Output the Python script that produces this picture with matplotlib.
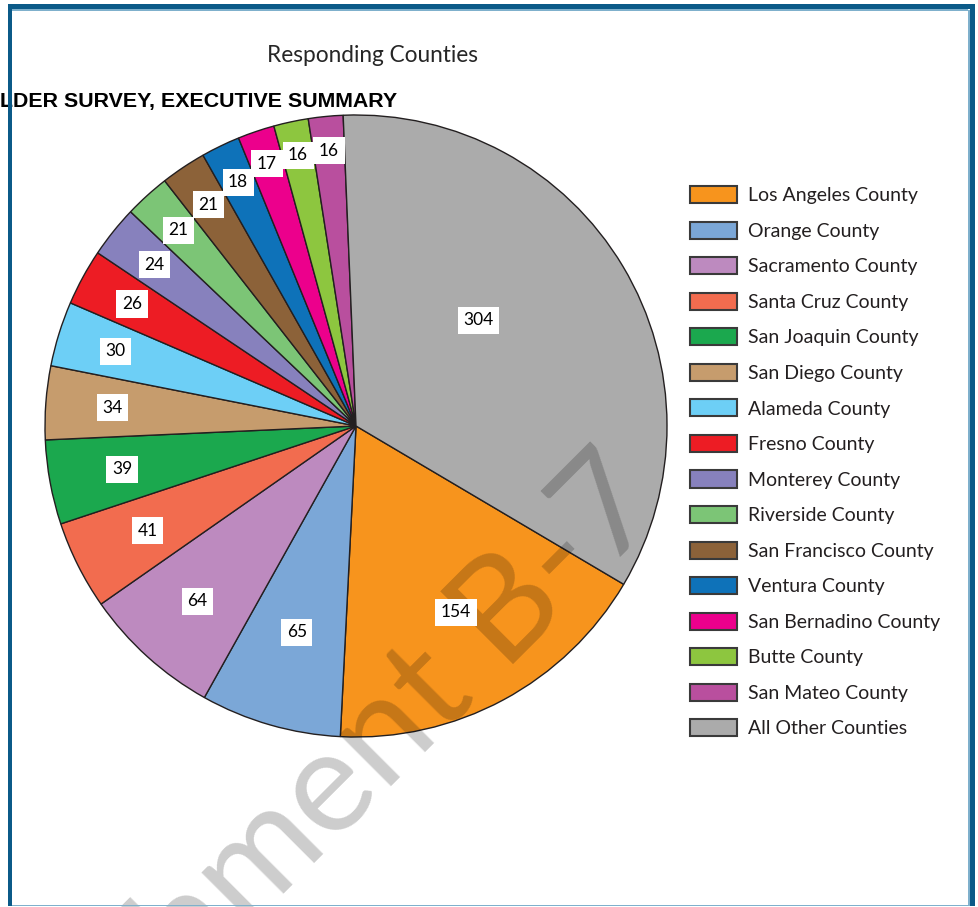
import matplotlib
matplotlib.use('Agg')
from matplotlib import pyplot as plt
from matplotlib.patches import Rectangle
import numpy as np

counties = ['Los Angeles County', 'Orange County', 'Sacramento County',
            'Santa Cruz County', 'San Joaquin County', 'San Diego County',
            'Alameda County', 'Fresno County', 'Monterey County',
            'Riverside County', 'San Francisco County', 'Ventura County',
            'San Bernadino County', 'Butte County', 'San Mateo County',
            'All Other Counties']
responses = [154, 65, 64, 41, 39, 34, 30, 26, 24, 21, 21, 18, 17, 16, 16, 304]
colors = ['#f7941d', '#7ba7d7', '#bd8abf', '#f26c4f', '#1ba84e', '#c69c6d',
          '#6dcff6', '#ed1c24', '#8781bd', '#7cc576', '#8c6239', '#0e72b9',
          '#ec008c', '#8dc63f', '#b94f9e', '#ababab']

# where the value boxes sit, as fraction of radius (Excel "best fit" look)
label_r = [0.68, 0.69, 0.76, 0.75, 0.765, 0.785, 0.81, 0.82, 0.83, 0.85,
           0.855, 0.87, 0.89, 0.89, 0.89, 0.52]
label_shift = [0] * 15 + [10]

W, H = 979, 907
fig = plt.figure(figsize=(W / 100, H / 100), dpi=100)
ax = fig.add_axes([0, 0, 1, 1])

cx, cy, R = 356, H - 426, 311
wedges, _ = ax.pie(responses, colors=colors, startangle=-30.6, counterclock=False,
                   center=(cx, cy), radius=R, frame=True,
                   wedgeprops=dict(edgecolor='#231f20', linewidth=1.0))
ax.set_xlim(0, W)
ax.set_ylim(0, H)
ax.axis('off')
clip = Rectangle((0, 0), 664, H, transform=ax.transData)
for w in wedges:
    w.set_clip_path(clip)

for w, val, rf, sh in zip(wedges, responses, label_r, label_shift):
    ang = np.deg2rad((w.theta1 + w.theta2) / 2 + sh)
    ax.text(cx + rf * R * np.cos(ang), cy + rf * R * np.sin(ang), str(val),
            ha='center', va='center', fontsize=12.5, family='Lato', color='black',
            zorder=7, bbox=dict(boxstyle='square,pad=0.32', fc='white', ec='none'))

# watermark
ax.text(668, H - 510, 'Attachment B-7', rotation=45, rotation_mode='anchor',
        ha='right', va='baseline', fontsize=104, family='Lato', color='black',
        alpha=0.2, zorder=6)

ax.text(373, H - 62, 'Responding Counties', ha='center', va='baseline',
        fontsize=16.3, family='Lato', color='#262626')
ax.text(397, H - 107, 'LDER SURVEY, EXECUTIVE SUMMARY', ha='right', va='baseline',
        fontsize=15.4, family='Liberation Sans', weight='bold', color='black', zorder=12)

leg = ax.legend(wedges, counties, loc='upper left', bbox_to_anchor=(690, H - 186),
                bbox_transform=ax.transData, frameon=False, prop=dict(family='Lato', size=14),
                handlelength=2.42, handleheight=0.98, handletextpad=0.55,
                labelspacing=0.89, borderpad=0, borderaxespad=0)
for t in leg.get_texts():
    t.set_color('#231f20')
for p in leg.get_patches():
    p.set_clip_path(None)
    p.set_edgecolor('#3a3a3a')
    p.set_linewidth(1.5)

# page frame
dark = '#0b5a88'
light = '#7fb0cc'
fig.patches.append(Rectangle((8, H - 9), 967, 5, transform=None, fc=dark, ec='none', zorder=10))
fig.patches.append(Rectangle((8, H - 906), 4, 902, transform=None, fc=dark, ec='none', zorder=10))
fig.patches.append(Rectangle((970, H - 906), 5, 902, transform=None, fc=dark, ec='none', zorder=10))
fig.patches.append(Rectangle((12, H - 10.5), 956, 1.5, transform=None, fc=light, ec='none', zorder=10))
fig.patches.append(Rectangle((968, H - 905), 1.5, 895, transform=None, fc=light, ec='none', zorder=10))
fig.patches.append(Rectangle((12, H - 906), 958, 1.5, transform=None, fc=light, ec='none', zorder=10))

fig.savefig('out.png', dpi=100)
